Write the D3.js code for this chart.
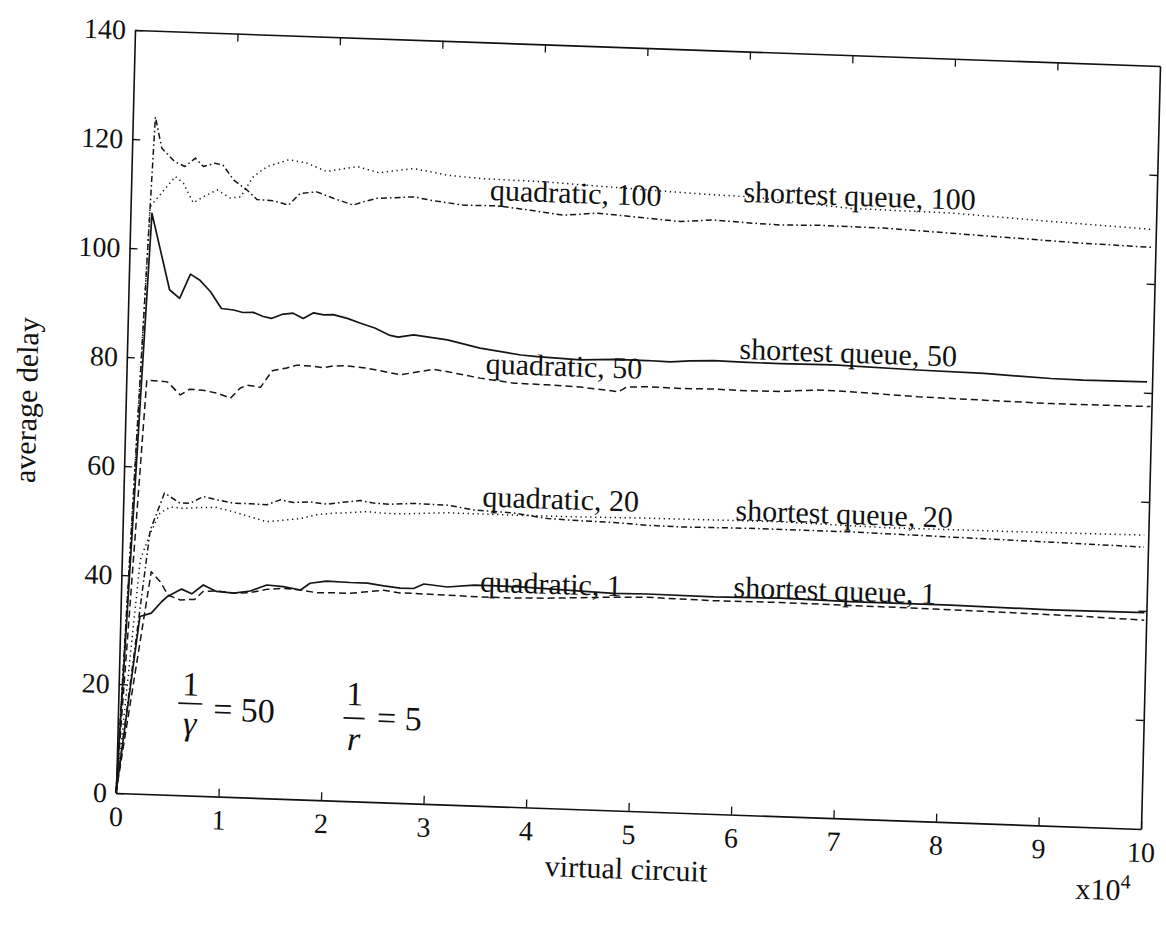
<!DOCTYPE html>
<html>
<head>
<meta charset="utf-8">
<script src="https://cdn.jsdelivr.net/npm/d3@7"></script>
<style>
  body { margin: 0; background: #fff; }
  svg { display: block; }
  text { font-family: "Liberation Serif", "Times New Roman", serif; fill: #111; }
</style>
</head>
<body>
<div id="chart"></div>
<script>
// axis ticks (virtual circuit in units of 10^4, average delay)
const xTicks = [0, 1, 2, 3, 4, 5, 6, 7, 8, 9, 10];
const yTicks = [0, 20, 40, 60, 80, 100, 120, 140];

// [virtual circuit (x10^4), average delay]
const shortest100 = [[0,0],[0.19,107.7],[0.32,110.8],[0.43,113.4],[0.51,112.2],[0.61,108.7],[0.71,109.9],[0.84,111.2],[0.97,109.8],[1.07,110.1],[1.19,113.9],[1.32,115.8],[1.53,117.2],[1.71,116.7],[1.90,115.3],[2.20,116.4],[2.41,115.4],[2.75,116.4],[3.08,115.4],[3.40,115.0],[3.73,114.9],[4.05,114.8],[4.38,114.5],[5.26,113.8],[5.68,113.5],[6.01,113.4],[7.02,111.9],[8.0,111.7],[8.97,110.8],[9.95,110.0]];
const quadratic100 = [[0,0],[0.22,124.2],[0.29,118.5],[0.42,116.1],[0.52,115.3],[0.62,116.9],[0.70,115.4],[0.81,116.1],[0.89,115.8],[1.0,113.1],[1.13,111.4],[1.23,109.7],[1.39,109.6],[1.54,108.9],[1.65,111.1],[1.81,111.5],[1.98,110.4],[2.17,109.3],[2.27,110.0],[2.40,110.7],[2.76,111.2],[2.92,110.7],[3.25,110.0],[3.57,110.1],[3.90,109.5],[4.22,108.8],[4.55,109.4],[4.88,109.0],[5.36,108.4],[5.69,108.9],[6.01,108.6],[6.34,108.4],[6.70,108.6],[7.35,108.5],[8.0,108.0],[8.65,107.5],[9.30,107.0],[9.96,106.7]];
const shortest50 = [[0,0],[0.21,106.5],[0.40,92.6],[0.50,91.1],[0.60,95.6],[0.69,94.6],[0.80,92.5],[0.91,89.5],[1.03,89.3],[1.12,88.9],[1.22,89.0],[1.32,88.3],[1.40,88.0],[1.50,88.8],[1.61,89.1],[1.71,88.2],[1.81,89.3],[1.91,89.0],[2.00,89.1],[2.14,88.5],[2.27,87.7],[2.41,86.9],[2.55,85.7],[2.64,85.4],[2.79,85.9],[3.12,85.2],[3.44,83.9],[3.84,82.9],[4.0,82.7],[4.42,82.4],[4.75,82.7],[5.07,82.7],[5.30,82.6],[5.49,82.9],[5.72,83.1],[6.05,83.0],[6.37,83.0],[6.89,83.1],[7.71,82.7],[8.36,82.5],[9.01,82.0],[9.33,81.9],[9.95,82.0]];
const quadratic50 = [[0,0],[0.20,75.9],[0.40,75.7],[0.53,73.4],[0.62,74.5],[0.75,74.4],[0.90,73.9],[1.02,73.1],[1.11,75.0],[1.18,75.6],[1.31,75.3],[1.42,78.4],[1.56,79.0],[1.66,79.6],[1.82,79.5],[1.92,79.3],[2.02,79.7],[2.15,79.8],[2.34,79.5],[2.51,79.0],[2.67,78.5],[2.99,79.7],[3.12,79.4],[3.45,78.4],[3.78,77.7],[4.10,77.6],[4.43,77.4],[4.69,77.0],[4.80,76.8],[4.88,77.7],[5.08,77.9],[5.40,77.8],[5.73,77.9],[6.06,77.8],[6.38,77.9],[6.74,78.4],[7.06,78.3],[7.72,77.8],[8.37,77.6],[9.02,77.4],[9.99,77.5]];
const shortest20 = [[0,0],[0.18,42.9],[0.27,47.8],[0.36,51.6],[0.46,52.8],[0.59,52.6],[0.75,52.9],[0.91,53.0],[1.08,52.3],[1.24,51.5],[1.40,50.7],[1.53,51.0],[1.73,51.5],[1.89,52.3],[2.05,52.7],[2.21,52.9],[2.38,53.2],[2.54,53.0],[2.70,53.0],[3.16,53.5],[3.81,53.5],[4.46,53.6],[5.11,53.8],[5.76,53.9],[6.41,54.0],[7.42,53.6],[8.72,53.7],[9.96,53.9]];
const quadratic20 = [[0,0],[0.27,48.4],[0.40,55.3],[0.55,53.6],[0.65,53.6],[0.78,54.9],[0.91,54.4],[1.07,53.9],[1.24,53.9],[1.40,53.8],[1.53,54.8],[1.66,54.4],[1.82,54.6],[1.99,54.3],[2.12,54.7],[2.31,55.2],[2.44,54.8],[2.60,54.7],[2.83,55.0],[3.16,54.9],[3.42,54.2],[3.81,53.9],[4.14,53.1],[4.46,52.9],[4.79,52.8],[5.11,52.5],[5.44,52.4],[5.76,52.5],[6.09,52.6],[7.10,52.6],[7.75,52.4],[8.40,52.2],[9.05,52.0],[9.96,51.7]];
const shortest1 = [[0,0],[0.19,32.5],[0.30,33.2],[0.40,35.4],[0.45,36.3],[0.59,37.8],[0.69,37.0],[0.80,38.7],[0.93,37.6],[1.10,37.4],[1.26,37.9],[1.42,39.1],[1.58,38.9],[1.75,38.4],[1.84,39.7],[2.00,40.2],[2.23,40.1],[2.40,40.1],[2.56,39.7],[2.72,39.4],[2.85,39.4],[2.95,40.3],[3.18,39.9],[3.44,40.4],[3.89,40.4],[4.80,39.8],[5.13,39.9],[5.78,39.8],[6.43,40.0],[7.11,39.8],[8.09,39.8],[9.07,39.6],[9.98,39.7]];
const quadratic1 = [[0,0],[0.29,40.8],[0.38,39.0],[0.46,36.6],[0.58,35.8],[0.72,36.0],[0.80,37.5],[0.93,37.7],[1.10,37.4],[1.26,37.6],[1.42,38.3],[1.58,38.6],[1.75,38.4],[1.91,38.0],[2.07,38.1],[2.23,38.1],[2.40,38.5],[2.56,38.9],[2.72,38.5],[2.85,38.5],[3.18,38.4],[3.50,38.3],[3.83,38.3],[4.16,38.5],[4.48,38.8],[4.80,39.1],[5.13,39.3],[5.45,39.2],[5.78,39.1],[6.43,39.2],[7.93,39.0],[8.74,38.8],[9.39,38.6],[9.98,38.3]];

const seriesLabels = ["quadratic, 100", "shortest queue, 100", "quadratic, 50", "shortest queue, 50",
                      "quadratic, 20", "shortest queue, 20", "quadratic, 1", "shortest queue, 1"];
const labelX = [3.5, 5.97, 3.5, 5.97, 3.5, 5.97, 3.5, 5.97];
const labelY = [111.1, 112.4, 79.3, 83.6, 54.9, 54.0, 39.3, 39.9];

const W = 1025, H = 763;

const svg = d3.select("#chart").append("svg")
    .attr("width", 1166)
    .attr("height", 930);

// the scanned figure is slightly tilted, so the whole plot sits in a skewed frame
const g = svg.append("g")
    .attr("transform", "matrix(1,0.0351,-0.0249,1,135,30)");

const x = d3.scaleLinear().domain([0, 10]).range([0, W]);
const y = d3.scaleLinear().domain([0, 140]).range([H, 0]);

function styleAxis(sel) {
    sel.attr("font-family", null).attr("font-size", null);
    sel.select(".domain").attr("stroke", "#111").attr("stroke-width", 1.6);
    sel.selectAll(".tick line").attr("stroke", "#111").attr("stroke-width", 1.3);
    sel.selectAll(".tick text").attr("font-size", 28).attr("fill", "#111");
}

g.append("g").attr("transform", `translate(0,${H})`)
    .call(d3.axisBottom(x).tickValues(xTicks).tickSize(-8).tickSizeOuter(0).tickPadding(13).tickFormat(d3.format("d")))
    .call(styleAxis);
g.append("g")
    .call(d3.axisLeft(y).tickValues(yTicks).tickSize(-8).tickSizeOuter(0).tickPadding(9).tickFormat(d3.format("d")))
    .call(styleAxis);
g.append("g")
    .call(d3.axisTop(x).tickValues(xTicks.slice(1, -1)).tickSize(-8).tickSizeOuter(0).tickFormat(""))
    .call(styleAxis);
g.append("g").attr("transform", `translate(${W},0)`)
    .call(d3.axisRight(y).tickValues(yTicks.slice(1, -1)).tickSize(-8).tickSizeOuter(0).tickFormat(""))
    .call(styleAxis);

const line = d3.line()
    .x(function (d) { return x(d[0]); })
    .y(function (d) { return y(d[1]); });

const styles = {
    solid: { dash: null, w: 1.7 },
    dashed: { dash: "7,4", w: 1.5 },
    dotted: { dash: "1.3,3.6", w: 1.5 },
    dashdot: { dash: "6,3,1.6,3", w: 1.5 }
};

const series = [
    { pts: shortest100, kind: "dotted" },
    { pts: quadratic100, kind: "dashdot" },
    { pts: shortest50, kind: "solid" },
    { pts: quadratic50, kind: "dashed" },
    { pts: shortest20, kind: "dotted" },
    { pts: quadratic20, kind: "dashdot" },
    { pts: shortest1, kind: "solid" },
    { pts: quadratic1, kind: "dashed" }
];

g.selectAll(".series")
    .data(series)
    .enter().append("path")
    .attr("class", "series")
    .attr("d", function (d) { return line(d.pts); })
    .attr("fill", "none")
    .attr("stroke", "#151515")
    .attr("stroke-width", function (d) { return styles[d.kind].w; })
    .attr("stroke-dasharray", function (d) { return styles[d.kind].dash; })
    .attr("stroke-linejoin", "round");

g.selectAll(".label")
    .data(seriesLabels)
    .enter().append("text")
    .attr("class", "label")
    .attr("x", function (d, i) { return x(labelX[i]); })
    .attr("y", function (d, i) { return y(labelY[i]); })
    .attr("font-size", 30)
    .text(function (d) { return d; });

// axis titles
g.append("text")
    .attr("x", W / 2 - 1)
    .attr("y", H + 68)
    .attr("text-anchor", "middle")
    .attr("font-size", 30)
    .text("virtual circuit");

const exp = g.append("text")
    .attr("x", W - 64)
    .attr("y", H + 72)
    .attr("font-size", 30)
    .text("x10");
exp.append("tspan")
    .attr("dy", -12)
    .attr("font-size", 20)
    .text("4");

g.append("text")
    .attr("transform", `translate(-89,${H / 2 - 8}) rotate(-90)`)
    .attr("text-anchor", "middle")
    .attr("font-size", 30)
    .text("average delay");

// parameter annotation: 1/gamma = 50, 1/r = 5
const ann = g.append("g").attr("font-size", 34);
function fraction(cx, numBase, barY, denBase, den, barW) {
    ann.append("text").attr("x", cx).attr("y", numBase).attr("text-anchor", "middle").text("1");
    ann.append("line")
        .attr("x1", cx - barW / 2).attr("x2", cx + barW / 2)
        .attr("y1", barY).attr("y2", barY)
        .attr("stroke", "#111").attr("stroke-width", 1.6);
    ann.append("text").attr("x", cx).attr("y", denBase).attr("text-anchor", "middle")
        .attr("font-style", "italic").text(den);
}
fraction(72, 663, 671, 702, "\u03b3", 24);
ann.append("text").attr("x", 95).attr("y", 687).text("= 50");
fraction(236, 667, 680, 712, "r", 21);
ann.append("text").attr("x", 259).attr("y", 690).text("= 5");
</script>
</body>
</html>
